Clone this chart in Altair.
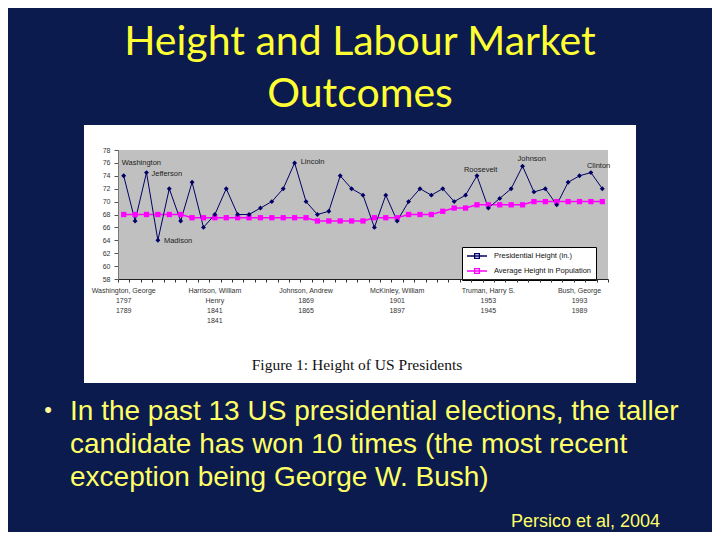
import altair as alt
import pandas as pd

# ---- data ----
pres_index = list(range(1, 44))
pres_height = [74, 67, 74.5, 64, 72, 67, 73, 66, 68, 72,
               68, 68, 69, 70, 72, 76, 70, 68, 68.5, 74,
               72, 71, 66, 71, 67, 70, 72, 71, 72, 70,
               71, 74, 69, 70.5, 72, 75.5, 71.5, 72, 69.5, 73,
               74, 74.5, 72]
pop_height = [68, 68, 68, 68, 68, 68, 67.5, 67.5, 67.5, 67.5,
              67.5, 67.5, 67.5, 67.5, 67.5, 67.5, 67.5, 67, 67, 67,
              67, 67, 67.5, 67.5, 67.5, 68, 68, 68, 68.5, 69,
              69, 69.5, 69.5, 69.5, 69.5, 69.5, 70, 70, 70, 70,
              70, 70, 70]
series_names = ["Presidential Height (in.)", "Average Height in Population"]

tick_idx = [1, 9, 17, 25, 33, 41]
tick_labels = ["Washington, George\n1797\n1789",
               "Harrison, William\nHenry\n1841\n1841",
               "Johnson, Andrew\n1869\n1865",
               "McKinley, William\n1901\n1897",
               "Truman, Harry S.\n1953\n1945",
               "Bush, George\n1993\n1989"]
y_ticks = [58, 60, 62, 64, 66, 68, 70, 72, 74, 76, 78]

ann_names = ["Washington", "Jefferson", "Madison", "Lincoln", "Roosevelt", "Johnson", "Clinton"]
ann_idx = [1, 3, 4, 16, 32, 36, 42]

title_text = "Height and Labour Market\nOutcomes"
bullet_text = ("In the past 13 US presidential elections, the taller\n"
               "candidate has won 10 times (the most recent\n"
               "exception being George W. Bush)")
caption_text = "Figure 1:  Height of US Presidents"
cite_text = "Persico et al, 2004"

# ---- tables ----
pres_df = pd.DataFrame({"idx": pres_index, "h": pres_height, "series": series_names[0]})
pop_df = pd.DataFrame({"idx": pres_index, "h": pop_height, "series": series_names[1]})
lab_df = pd.DataFrame({"idx": tick_idx, "label": tick_labels})
ann_df = pd.DataFrame({"idx": ann_idx, "name": ann_names,
                       "h": [pres_height[i - 1] for i in ann_idx]})
one = alt.Data(values=[{}])

W, H = 490, 129
xscale = alt.Scale(domain=[0.5, 43.5], nice=False, zero=False)
yscale = alt.Scale(domain=[58, 78], nice=False, zero=False)
cscale = alt.Scale(domain=series_names, range=["#000066", "#ff00ff"])

x_axis = alt.Axis(values=[i + 0.5 for i in range(44)], labels=False, title=None, grid=False,
                  tickSize=3, tickColor="#333333", domainColor="#222222", domainWidth=1,
                  zindex=1)
y_axis = alt.Axis(values=y_ticks, title=None, grid=False, labelFontSize=7,
                  labelFont="Liberation Sans", labelColor="#333333", tickSize=4,
                  tickColor="#555555", domainColor="#777777", labelPadding=4, zindex=1)

X = alt.X("idx:Q", scale=xscale, axis=x_axis)
Y = alt.Y("h:Q", scale=yscale, axis=y_axis)

panel = alt.Chart(one).mark_rect(color="white").encode(
    x=alt.value(-34), x2=alt.value(518), y=alt.value(-25), y2=alt.value(233))
plotbg = alt.Chart(one).mark_rect(color="#c0c0c0").encode(
    x=alt.value(0), x2=alt.value(W), y=alt.value(0), y2=alt.value(H))

legend = alt.Legend(title=None, orient="none", legendX=344, legendY=97,
                    fillColor="white", strokeColor="black", padding=4,
                    labelFontSize=7.5, labelFont="Liberation Sans", labelColor="#111111",
                    symbolType="M-2.5,0H2.5M-0.6,-0.6H0.6V0.6H-0.6Z", symbolSize=64,
                    symbolStrokeWidth=1.3, symbolOffset=6, rowPadding=5, labelOffset=12,
                    cornerRadius=0)

pres_line = alt.Chart(pres_df).mark_line(strokeWidth=1).encode(
    x=X, y=Y, color=alt.Color("series:N", scale=cscale, legend=legend))
pop_line = alt.Chart(pop_df).mark_line(strokeWidth=1.5).encode(
    x=X, y=Y, color=alt.Color("series:N", scale=cscale, legend=legend))
pres_pts = alt.Chart(pres_df).mark_point(shape="diamond", filled=True, size=24,
                                         color="#000066", opacity=1).encode(x=X, y=Y)
pop_pts = alt.Chart(pop_df).mark_square(size=28, color="#ff00ff", opacity=1).encode(x=X, y=Y)

offsets = {"Washington": (-2, -13), "Jefferson": (5, 1), "Madison": (6, 1),
           "Lincoln": (6, -1), "Roosevelt": (-13, -6), "Johnson": (-5, -7),
           "Clinton": (-4, -7)}
ann_layers = []
for nm in ann_names:
    dx, dy = offsets[nm]
    ann_layers.append(
        alt.Chart(ann_df).transform_filter(alt.datum.name == nm).mark_text(
            align="left", baseline="middle", dx=dx, dy=dy, fontSize=7.5,
            font="Liberation Sans", color="#222222").encode(x=X, y=Y, text="name:N"))

xlabels = alt.Chart(lab_df).mark_text(
    align="center", baseline="top", fontSize=7, font="Liberation Sans",
    color="#333333", lineBreak="\n", lineHeight=10).encode(
    x=X, y=alt.value(137), text="label:N")

caption = alt.Chart(one).mark_text(
    text=caption_text, align="center", baseline="alphabetic", fontSize=15.5,
    font="Liberation Serif", color="#111111").encode(x=alt.value(239), y=alt.value(220))

title = alt.Chart(one).mark_text(
    text=title_text, align="center", baseline="alphabetic", fontSize=41,
    font="Lato", color="#ffff33", lineBreak="\n", lineHeight=52).encode(
    x=alt.value(242), y=alt.value(-95))

bullet_dot = alt.Chart(one).mark_text(
    text="•", align="center", baseline="middle", fontSize=22,
    font="Liberation Sans", color="#ffff99").encode(x=alt.value(-70), y=alt.value(260))
bullet = alt.Chart(one).mark_text(
    text=bullet_text, align="left", baseline="alphabetic", fontSize=28,
    font="Liberation Sans", color="#ffff66", lineBreak="\n", lineHeight=33).encode(
    x=alt.value(-48), y=alt.value(270))
cite = alt.Chart(one).mark_text(
    text=cite_text, align="right", baseline="alphabetic", fontSize=18,
    font="Liberation Sans", color="#ffff66").encode(x=alt.value(542), y=alt.value(377))

chart = alt.layer(
    panel, plotbg, pop_line, pres_line, pop_pts, pres_pts, *ann_layers, xlabels,
    caption, title, bullet_dot, bullet, cite
).properties(
    width=W, height=H, background="#0b1b4d",
    padding={"left": 110, "top": 142, "right": 104, "bottom": 253},
    autosize=alt.AutoSizeParams(type="none")
).configure_view(stroke=None)

chart.save("out.html", embed_options={"renderer": "svg", "actions": False})
